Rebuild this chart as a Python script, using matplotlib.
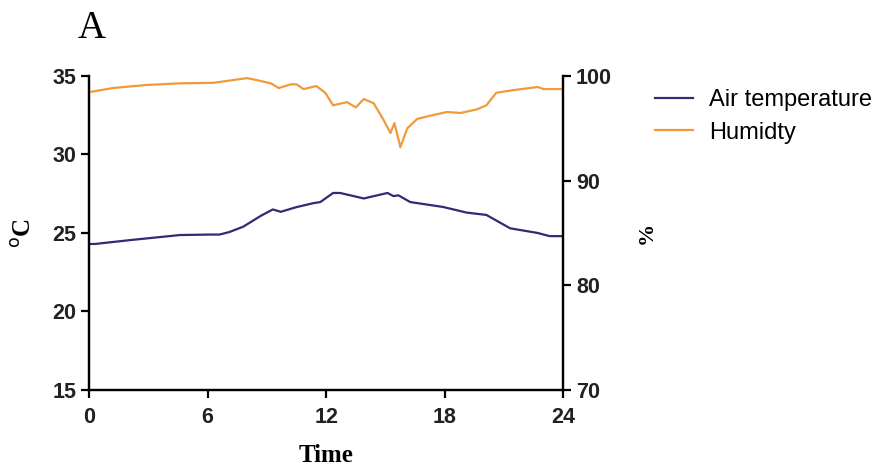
import matplotlib
matplotlib.use("Agg")
import matplotlib.pyplot as plt

# hours of day and readings
temp_time = [0, 0.3, 2.1, 4.6, 6.1, 6.6, 7.1, 7.8, 8.7, 9.3, 9.7, 10.5, 11.35, 11.7,
             12.35, 12.7, 13.9, 15.1, 15.4, 15.65, 16.25, 17.9, 19.1, 20.1, 21.3,
             22.7, 23.3, 24]
temp_vals = [24.3, 24.3, 24.55, 24.87, 24.9, 24.9, 25.06, 25.4, 26.1, 26.5, 26.35,
             26.65, 26.9, 26.97, 27.55, 27.55, 27.2, 27.55, 27.35, 27.4, 26.97, 26.66,
             26.3, 26.15, 25.3, 25.0, 24.8, 24.8]

hum_time = [0, 1.2, 2.9, 4.6, 6.3, 8.0, 8.5, 9.2, 9.6, 10.2, 10.5, 10.85, 11.5, 11.95,
            12.35, 13.05, 13.5, 13.9, 14.4, 14.9, 15.25, 15.45, 15.75, 16.1, 16.6,
            17.25, 18.1, 18.8, 19.6, 20.1, 20.6, 21.5, 22.7, 23.0, 24]
hum_vals = [98.45, 98.85, 99.14, 99.3, 99.35, 99.8, 99.6, 99.3, 98.85, 99.2, 99.2,
            98.75, 99.04, 98.4, 97.2, 97.5, 97.0, 97.8, 97.4, 95.8, 94.55, 95.5, 93.2,
            95.0, 95.9, 96.2, 96.56, 96.47, 96.8, 97.2, 98.4, 98.66, 98.95, 98.75, 98.75]

x_ticks = [0, 6, 12, 18, 24]
left_ticks = [15, 20, 25, 30, 35]
right_ticks = [70, 80, 90, 100]

temp_color = "#2f2b75"
hum_color = "#f29a3a"

plt.rcParams["font.family"] = ["Liberation Sans", "DejaVu Sans"]

fig = plt.figure(figsize=(8.95, 4.68), dpi=100)
ax = fig.add_axes([0.0994, 0.1667, 0.5302, 0.6709])
ax2 = ax.twinx()

l1, = ax.plot(temp_time, temp_vals, color=temp_color, lw=1.6, label="Air temperature")
l2, = ax2.plot(hum_time, hum_vals, color=hum_color, lw=1.6, label="Humidty")

ax.set_xlim(0, 24)
ax.set_ylim(15, 35)
ax2.set_ylim(70, 100)
ax.set_xticks(x_ticks)
ax.set_yticks(left_ticks)
ax2.set_yticks(right_ticks)

for a in (ax, ax2):
    a.spines["top"].set_visible(False)
    for s in a.spines.values():
        s.set_linewidth(1.6)
    a.tick_params(width=1.6, length=6, labelsize=15.5, pad=3)
    for lab in a.get_xticklabels() + a.get_yticklabels():
        lab.set_fontweight("bold")
        lab.set_color("#222222")
ax.tick_params(axis="x", pad=6)

serif = ["Liberation Serif", "DejaVu Serif"]
ax.set_xlabel("Time", family=serif, fontweight="bold", fontsize=18, labelpad=12)
ax.set_ylabel("$^{\\mathrm{o}}$C", family=serif, fontweight="bold", fontsize=18, labelpad=12)
ax2.set_ylabel("%", family=serif, fontweight="bold", fontsize=16, labelpad=18, rotation=90)

fig.text(0.087, 0.94, "A", family=serif, fontsize=28, va="center", ha="left")

fig.legend(handles=[l1, l2], loc="upper left", bbox_to_anchor=(0.732, 0.81),
           frameon=False, fontsize=17, handlelength=1.6, handletextpad=0.7,
           labelspacing=0.45, borderpad=0, borderaxespad=0)

fig.savefig("out.png", dpi=100)
